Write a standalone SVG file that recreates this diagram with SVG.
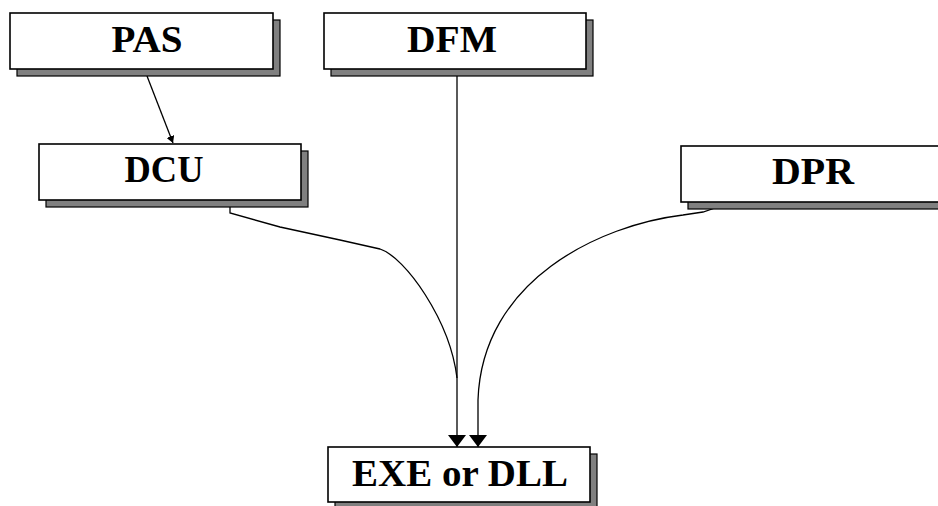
<svg xmlns="http://www.w3.org/2000/svg" width="938" height="506" viewBox="0 0 938 506">
<style>
.box{fill:#fff;stroke:#000;stroke-width:1.6}
.sh{fill:#808080;stroke:#000;stroke-width:1.2}
.lbl{font-family:"Liberation Serif","Times New Roman",serif;font-weight:bold;font-size:37px;fill:#000;text-anchor:middle}
.con{fill:none;stroke:#000;stroke-width:1.3}
</style>
<defs>
<marker id="ah" markerUnits="userSpaceOnUse" markerWidth="13" markerHeight="18" refX="12" refY="9" orient="auto" viewBox="0 0 13 18">
<path d="M0,0 L12,9 L0,18 z" fill="#000"/>
</marker>
<marker id="ahs" markerUnits="userSpaceOnUse" markerWidth="8" markerHeight="8" refX="7" refY="4" orient="auto" viewBox="0 0 8 8">
<path d="M0,0 L7,4 L0,8 z" fill="#000"/>
</marker>
</defs>
<rect width="938" height="506" fill="#fff"/>
<g id="connectors">
<path class="con" d="M147,76 L173,143" marker-end="url(#ahs)"/>
<path class="con" d="M457,76 L457,447" marker-end="url(#ah)"/>
<path class="con" d="M230,207 L230,213 L280,227 L340,240 L380,249 C405,257 450,320 457,378"/>
<path class="con" d="M715,208 L703,212 L683,215 C600,225 482,280 478,400 L478,447" marker-end="url(#ah)"/>
</g>
<g id="node-pas">
<rect class="sh" x="17" y="20" width="263" height="56"/>
<rect class="box" x="10" y="13" width="263" height="56"/>
<text class="lbl" x="147" y="52" textLength="71" lengthAdjust="spacingAndGlyphs">PAS</text>
</g>
<g id="node-dfm">
<rect class="sh" x="331" y="20" width="262" height="56"/>
<rect class="box" x="324" y="13" width="262" height="56"/>
<text class="lbl" x="452" y="52" textLength="90" lengthAdjust="spacingAndGlyphs">DFM</text>
</g>
<g id="node-dcu">
<rect class="sh" x="46" y="151" width="262" height="56"/>
<rect class="box" x="39" y="144" width="262" height="56"/>
<text class="lbl" x="164" y="182" textLength="79" lengthAdjust="spacingAndGlyphs">DCU</text>
</g>
<g id="node-dpr">
<rect class="sh" x="688" y="153" width="270" height="56"/>
<rect class="box" x="681" y="146" width="270" height="56"/>
<text class="lbl" x="813" y="184" textLength="82" lengthAdjust="spacingAndGlyphs">DPR</text>
</g>
<g id="node-exe">
<rect class="sh" x="335" y="454" width="262" height="56"/>
<rect class="box" x="328" y="447" width="262" height="55"/>
<text class="lbl" x="460" y="486" textLength="216" lengthAdjust="spacingAndGlyphs">EXE or DLL</text>
</g>
</svg>
